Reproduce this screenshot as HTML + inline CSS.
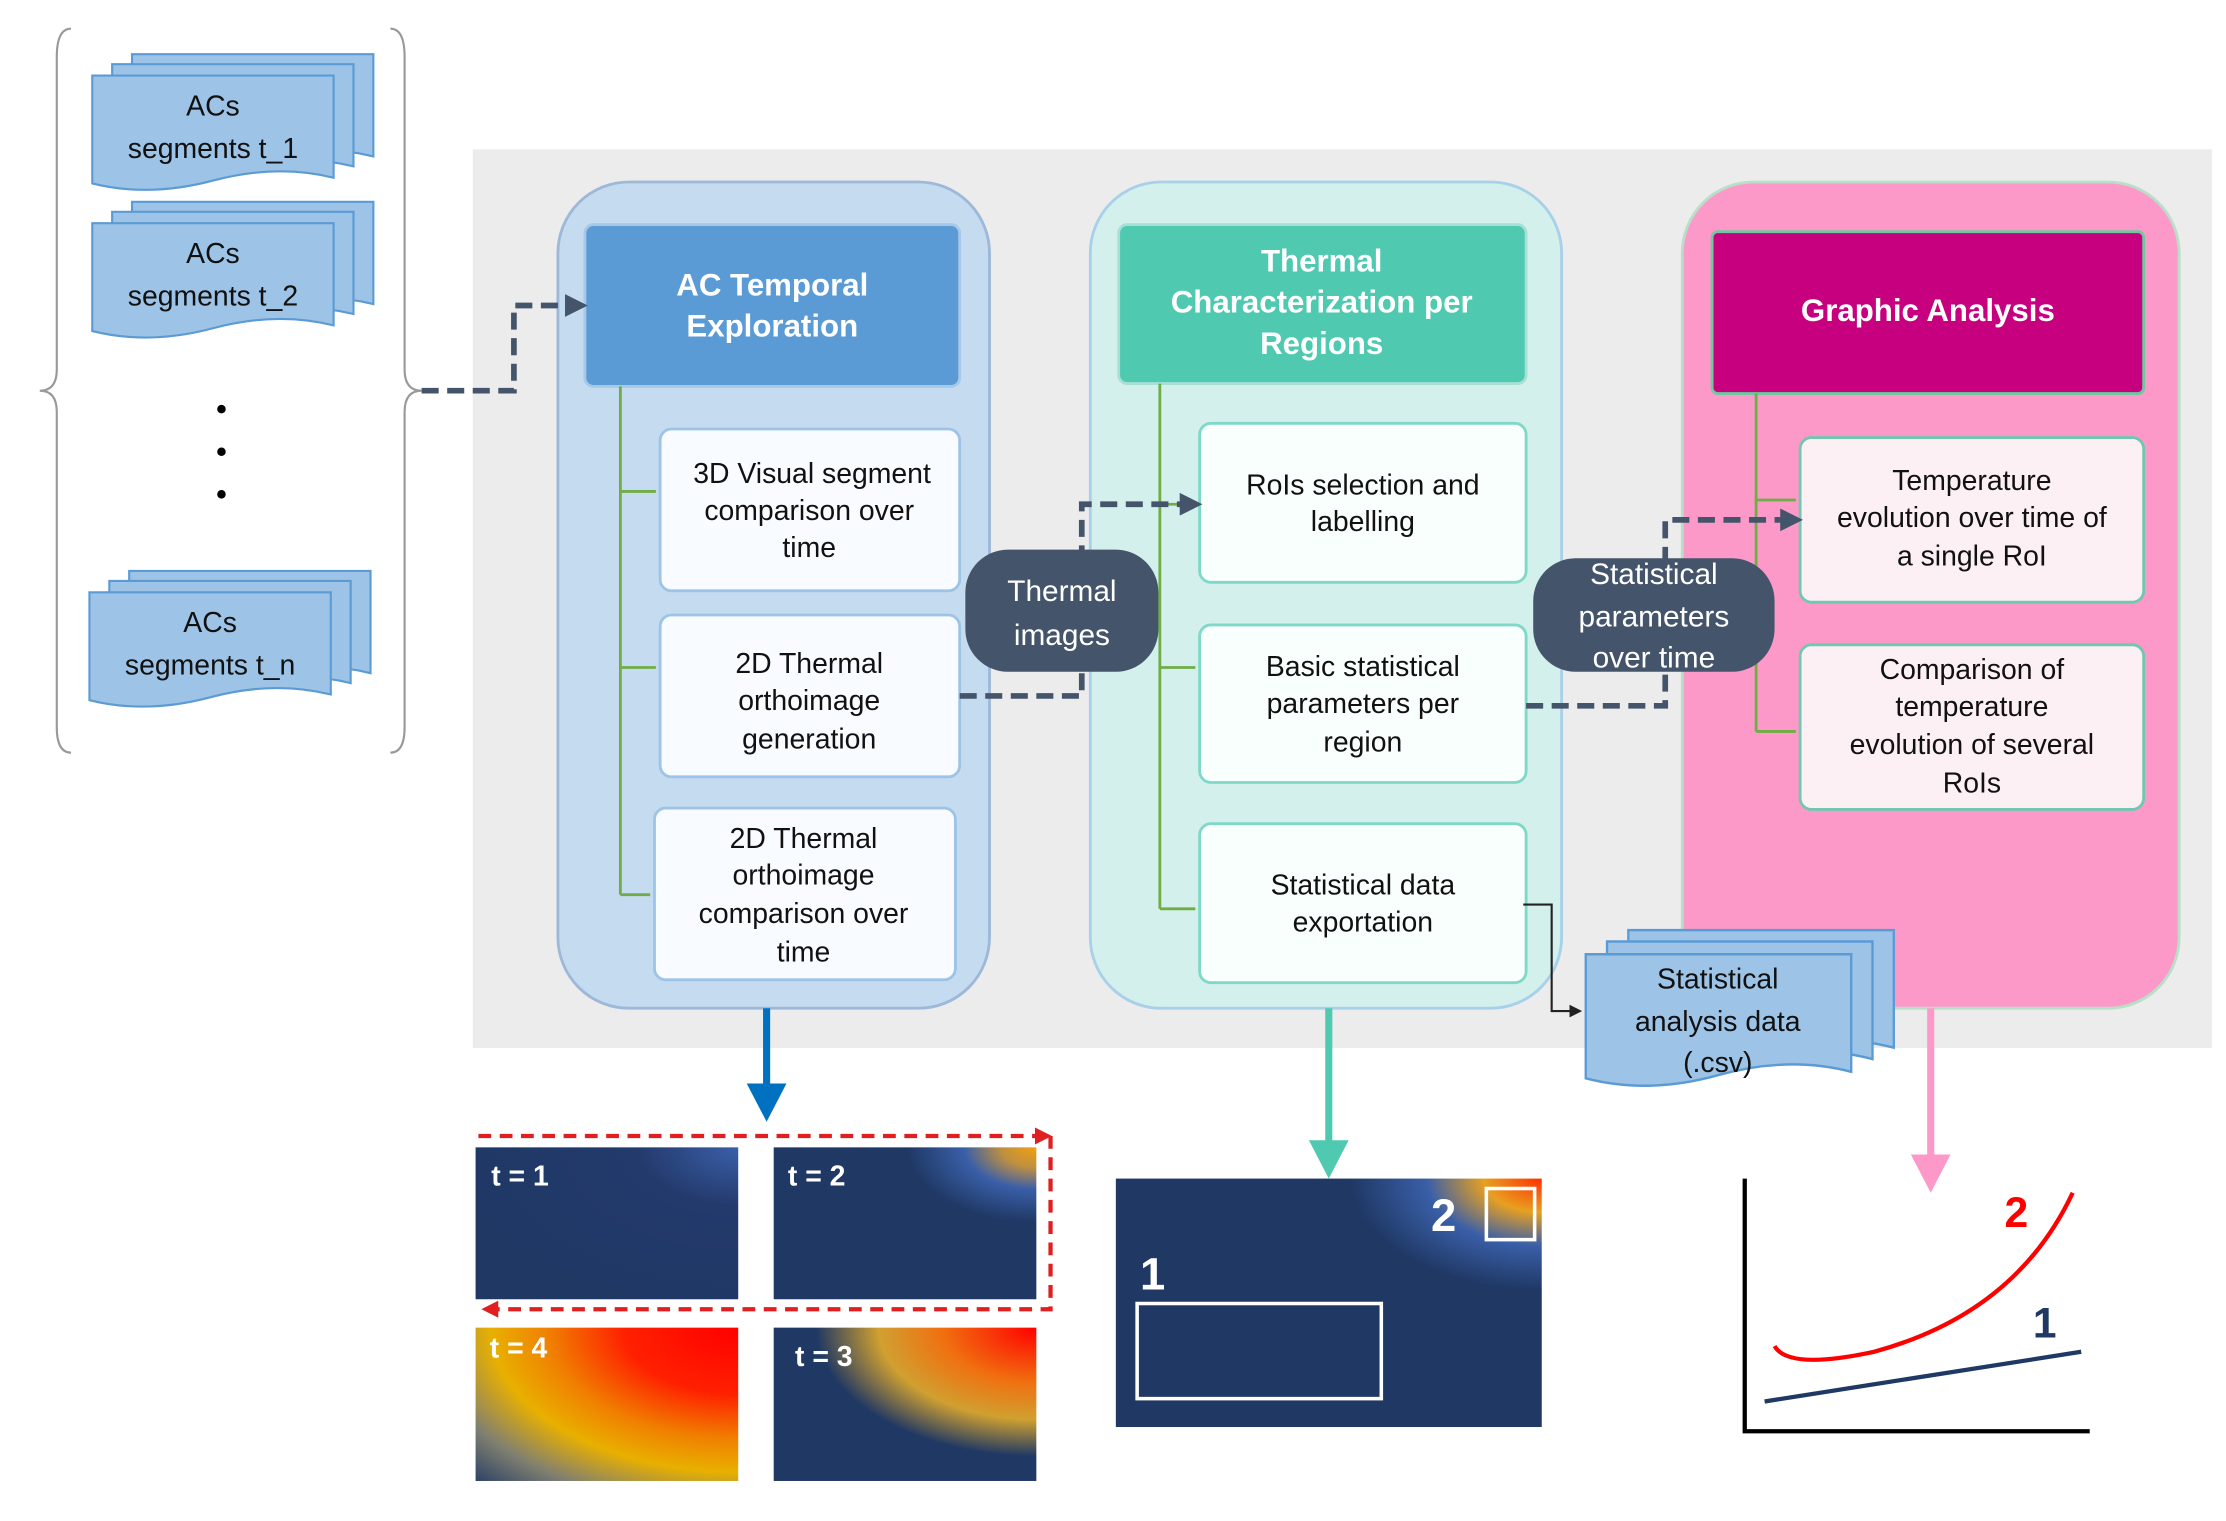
<!DOCTYPE html>
<html><head><meta charset="utf-8"><style>
html,body{margin:0;padding:0;background:#fff;}
svg{display:block;font-family:"Liberation Sans",sans-serif;}
</style></head><body>
<svg width="2226" height="1521" viewBox="0 0 1568 1071" xmlns="http://www.w3.org/2000/svg">
<defs>
<marker id="ad" markerWidth="4" markerHeight="4" refX="3" refY="2" orient="auto" markerUnits="strokeWidth"><path d="M0,0 L4,2 L0,4 z" fill="#44546a"/></marker>
<marker id="ak" markerWidth="6" markerHeight="6" refX="5" refY="3" orient="auto" markerUnits="strokeWidth"><path d="M0,0 L6,3 L0,6 z" fill="#222"/></marker>
<marker id="ar" markerWidth="4" markerHeight="4" refX="3" refY="2" orient="auto" markerUnits="strokeWidth"><path d="M0,0 L4,2 L0,4 z" fill="#e02020"/></marker>
<radialGradient id="g1" cx="1" cy="0" r="1.1"><stop offset="0" stop-color="#3a5fa8"/><stop offset="0.35" stop-color="#233a6c"/><stop offset="1" stop-color="#1f3864"/></radialGradient>
<radialGradient id="g2" cx="1" cy="0" r="1.1"><stop offset="0" stop-color="#f0a010"/><stop offset="0.12" stop-color="#c09040"/><stop offset="0.25" stop-color="#3a5fa8"/><stop offset="0.45" stop-color="#1f3864"/><stop offset="1" stop-color="#1f3864"/></radialGradient>
<radialGradient id="g3" cx="1" cy="0" r="1.2"><stop offset="0" stop-color="#ff0000"/><stop offset="0.3" stop-color="#f07010"/><stop offset="0.5" stop-color="#d0a030"/><stop offset="0.7" stop-color="#1f3864"/><stop offset="1" stop-color="#1f3864"/></radialGradient>
<radialGradient id="g4" cx="1" cy="0" r="1.45"><stop offset="0" stop-color="#ff0000"/><stop offset="0.3" stop-color="#ff2000"/><stop offset="0.5" stop-color="#f08000"/><stop offset="0.65" stop-color="#e8b000"/><stop offset="0.82" stop-color="#808070"/><stop offset="1" stop-color="#1f3864"/></radialGradient>
<radialGradient id="g5" cx="1" cy="0" r="0.9"><stop offset="0" stop-color="#ff3000"/><stop offset="0.15" stop-color="#e8a020"/><stop offset="0.3" stop-color="#3a5fa8"/><stop offset="0.5" stop-color="#1f3864"/><stop offset="1" stop-color="#1f3864"/></radialGradient>
<g id="doc"><path d="M0,0 h170 v72 q-40,-10 -85,2 q-45,12 -85,2 z" fill="#9dc3e6" stroke="#5b9bd5" stroke-width="1.5"/></g>
</defs>

<path d="M50,20 Q40,20 40,40 V260 Q40,275 28,275 Q40,275 40,290 V512 Q40,530 50,530" fill="none" stroke="#999" stroke-width="1.5"/>
<path d="M275,20 Q285,20 285,40 V260 Q285,275 297,275 Q285,275 285,290 V512 Q285,530 275,530" fill="none" stroke="#999" stroke-width="1.5"/>

<g transform="translate(93,38)"><use href="#doc"/></g>
<g transform="translate(79,45)"><use href="#doc"/></g>
<g transform="translate(65,53)"><use href="#doc"/></g>
<text x="150" y="81" font-size="20" text-anchor="middle" fill="#111">ACs</text>
<text x="150" y="111" font-size="20" text-anchor="middle" fill="#111">segments t_1</text>
<g transform="translate(93,142)"><use href="#doc"/></g>
<g transform="translate(79,149)"><use href="#doc"/></g>
<g transform="translate(65,157)"><use href="#doc"/></g>
<text x="150" y="185" font-size="20" text-anchor="middle" fill="#111">ACs</text>
<text x="150" y="215" font-size="20" text-anchor="middle" fill="#111">segments t_2</text>
<circle cx="156" cy="288" r="3" fill="#000"/><circle cx="156" cy="318" r="3" fill="#000"/><circle cx="156" cy="348" r="3" fill="#000"/>
<g transform="translate(91,402)"><use href="#doc"/></g>
<g transform="translate(77,409)"><use href="#doc"/></g>
<g transform="translate(63,417)"><use href="#doc"/></g>
<text x="148" y="445" font-size="20" text-anchor="middle" fill="#111">ACs</text>
<text x="148" y="475" font-size="20" text-anchor="middle" fill="#111">segments t_n</text>

<rect x="333" y="105" width="1225" height="633" fill="#ececec"/>

<rect x="393" y="128" width="304" height="582" rx="50" fill="#c5dcf0" stroke="#9db8d8" stroke-width="2"/>
<rect x="412" y="158" width="264" height="114" rx="6" fill="#5b9bd5" stroke="#a8c8e8" stroke-width="2"/>
<text x="544" y="208" font-size="22" font-weight="bold" fill="#fff" text-anchor="middle">AC Temporal</text>
<text x="544" y="237" font-size="22" font-weight="bold" fill="#fff" text-anchor="middle">Exploration</text>
<path d="M437,272 V630 M437,346 H462 M437,470 H462 M437,630 H458" stroke="#70ad47" stroke-width="2" fill="none"/>
<rect x="465" y="302" width="211" height="114" rx="8" fill="#f8fbff" stroke="#9dc3e6" stroke-width="2"/>
<text font-size="20" fill="#111" text-anchor="middle"><tspan x="572" y="340">3D Visual segment</tspan><tspan x="570" y="366">comparison over</tspan><tspan x="570" y="392">time</tspan></text>
<rect x="465" y="433" width="211" height="114" rx="8" fill="#f8fbff" stroke="#9dc3e6" stroke-width="2"/>
<text font-size="20" fill="#111" text-anchor="middle"><tspan x="570" y="474">2D Thermal</tspan><tspan x="570" y="500">orthoimage</tspan><tspan x="570" y="527">generation</tspan></text>
<rect x="461" y="569" width="212" height="121" rx="8" fill="#f8fbff" stroke="#9dc3e6" stroke-width="2"/>
<text font-size="20" fill="#111" text-anchor="middle"><tspan x="566" y="597">2D Thermal</tspan><tspan x="566" y="623">orthoimage</tspan><tspan x="566" y="650">comparison over</tspan><tspan x="566" y="677">time</tspan></text>

<rect x="768" y="128" width="332" height="582" rx="50" fill="#d4f0ec" stroke="#a8d0e8" stroke-width="2"/>
<rect x="788" y="158" width="287" height="112" rx="6" fill="#4fc9b0" stroke="#a8e0d8" stroke-width="2"/>
<text font-size="22" font-weight="bold" fill="#fff" text-anchor="middle"><tspan x="931" y="191">Thermal</tspan><tspan x="931" y="220">Characterization per</tspan><tspan x="931" y="249">Regions</tspan></text>
<path d="M817,270 V640 M817,355 H842 M817,470 H842 M817,640 H842" stroke="#70ad47" stroke-width="2" fill="none"/>
<rect x="845" y="298" width="230" height="112" rx="8" fill="#f8fffd" stroke="#7fd8c8" stroke-width="2"/>
<text font-size="20" fill="#111" text-anchor="middle"><tspan x="960" y="348">RoIs selection and</tspan><tspan x="960" y="374">labelling</tspan></text>
<rect x="845" y="440" width="230" height="111" rx="8" fill="#f8fffd" stroke="#7fd8c8" stroke-width="2"/>
<text font-size="20" fill="#111" text-anchor="middle"><tspan x="960" y="476">Basic statistical</tspan><tspan x="960" y="502">parameters per</tspan><tspan x="960" y="529">region</tspan></text>
<rect x="845" y="580" width="230" height="112" rx="8" fill="#f8fffd" stroke="#7fd8c8" stroke-width="2"/>
<text font-size="20" fill="#111" text-anchor="middle"><tspan x="960" y="630">Statistical data</tspan><tspan x="960" y="656">exportation</tspan></text>

<rect x="1185" y="128" width="350" height="582" rx="50" fill="#fd99c8" stroke="#b8e0c8" stroke-width="2"/>
<rect x="1206" y="163" width="304" height="114" rx="4" fill="#c7007f" stroke="#70c8a0" stroke-width="2"/>
<text x="1358" y="226" font-size="22" font-weight="bold" fill="#fff" text-anchor="middle">Graphic Analysis</text>
<path d="M1237,277 V515 M1237,352 H1265 M1237,515 H1265" stroke="#70ad47" stroke-width="2" fill="none"/>
<rect x="1268" y="308" width="242" height="116" rx="8" fill="#fdf0f5" stroke="#70c8b0" stroke-width="2"/>
<text font-size="20" fill="#111" text-anchor="middle"><tspan x="1389" y="345">Temperature</tspan><tspan x="1389" y="371">evolution over time of</tspan><tspan x="1389" y="398">a single RoI</tspan></text>
<rect x="1268" y="454" width="242" height="116" rx="8" fill="#fdf0f5" stroke="#70c8b0" stroke-width="2"/>
<text font-size="20" fill="#111" text-anchor="middle"><tspan x="1389" y="478">Comparison of</tspan><tspan x="1389" y="504">temperature</tspan><tspan x="1389" y="531">evolution of several</tspan><tspan x="1389" y="558">RoIs</tspan></text>

<path d="M297,275 H362 V215 H410" fill="none" stroke="#44546a" stroke-width="4" stroke-dasharray="12,6" marker-end="url(#ad)"/>
<path d="M676,490 H762 V355 H843" fill="none" stroke="#44546a" stroke-width="4" stroke-dasharray="12,6" marker-end="url(#ad)"/>
<path d="M1075,497 H1173 V366 H1266" fill="none" stroke="#44546a" stroke-width="4" stroke-dasharray="12,6" marker-end="url(#ad)"/>

<rect x="680" y="387" width="136" height="86" rx="30" fill="#44546a"/>
<text font-size="21" fill="#fff" text-anchor="middle"><tspan x="748" y="423">Thermal</tspan><tspan x="748" y="454">images</tspan></text>
<rect x="1080" y="393" width="170" height="80" rx="30" fill="#44546a"/>
<text font-size="21" fill="#fff" text-anchor="middle"><tspan x="1165" y="411">Statistical</tspan><tspan x="1165" y="441">parameters</tspan><tspan x="1165" y="470">over time</tspan></text>

<path d="M1073,637 H1093 V712 H1113" fill="none" stroke="#222" stroke-width="1.5" marker-end="url(#ak)"/>
<g transform="translate(1147,655) scale(1.1,1.15)"><use href="#doc"/></g>
<g transform="translate(1132,663) scale(1.1,1.15)"><use href="#doc"/></g>
<g transform="translate(1117,672) scale(1.1,1.15)"><use href="#doc"/></g>
<text font-size="20" fill="#111" text-anchor="middle"><tspan x="1210" y="696">Statistical</tspan><tspan x="1210" y="726">analysis data</tspan><tspan x="1210" y="755">(.csv)</tspan></text>

<path d="M540,710 V765" stroke="#0070c0" stroke-width="5"/><path d="M526,763 L540,790 L554,763 z" fill="#0070c0"/>
<path d="M936,710 V805" stroke="#4fc9b0" stroke-width="5"/><path d="M922,803 L936,830 L950,803 z" fill="#4fc9b0"/>
<path d="M1360,710 V815" stroke="#fd99c8" stroke-width="5"/><path d="M1346,813 L1360,840 L1374,813 z" fill="#fd99c8"/>

<rect x="335" y="808" width="185" height="107" fill="url(#g1)"/>
<rect x="545" y="808" width="185" height="107" fill="url(#g2)"/>
<rect x="335" y="935" width="185" height="108" fill="url(#g4)"/>
<rect x="545" y="935" width="185" height="108" fill="url(#g3)"/>
<g font-size="20" font-weight="bold" fill="#fff"><text x="346" y="835">t = 1</text><text x="555" y="835">t = 2</text><text x="345" y="956">t = 4</text><text x="560" y="962">t = 3</text></g>
<path d="M337,800 H738" fill="none" stroke="#e02020" stroke-width="3" stroke-dasharray="9,6" marker-end="url(#ar)"/>
<path d="M740,800 V922 H342" fill="none" stroke="#e02020" stroke-width="3" stroke-dasharray="9,6" marker-end="url(#ar)"/>

<rect x="786" y="830" width="300" height="175" fill="url(#g5)"/>
<rect x="1047" y="837" width="34" height="36" fill="none" stroke="#fff" stroke-width="2.5"/>
<rect x="801" y="918" width="172" height="67" fill="none" stroke="#fff" stroke-width="2.5"/>
<text x="803" y="908" font-size="32" font-weight="bold" fill="#fff">1</text>
<text x="1008" y="867" font-size="32" font-weight="bold" fill="#fff">2</text>

<path d="M1229,830 V1008 H1472" fill="none" stroke="#000" stroke-width="3"/>
<path d="M1250,948 Q1260,965 1320,952 Q1420,925 1460,840" fill="none" stroke="#ff0000" stroke-width="3"/>
<path d="M1243,987 L1466,952" stroke="#1f3864" stroke-width="3"/>
<text x="1412" y="864" font-size="30" font-weight="bold" fill="#ff0000">2</text>
<text x="1432" y="942" font-size="30" font-weight="bold" fill="#1f3864">1</text>
</svg>
</body></html>
